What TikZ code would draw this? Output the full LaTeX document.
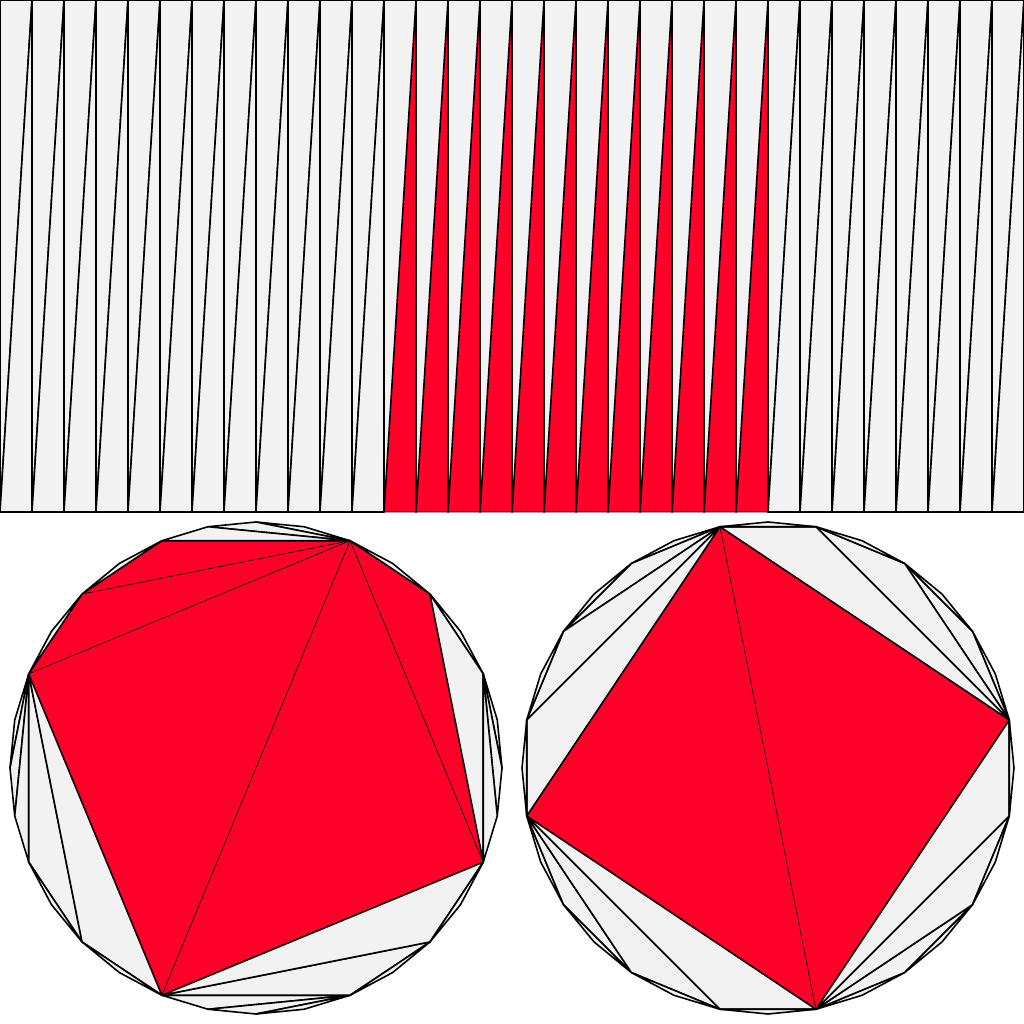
\documentclass[tikz,border=0pt]{standalone}
\definecolor{triGrey}{RGB}{242,242,242}
\definecolor{triRed}{RGB}{255,0,41}
\tikzset{
  gtri/.style={fill=triGrey, draw=black, line width=0.45pt, line join=round},
  rtri/.style={fill=triRed, draw=black, line width=0.15pt, line join=round}
}
\newcommand{\mytriG}[3]{\draw[gtri] (#1)--(#2)--(#3)--cycle;}
\newcommand{\mytriR}[3]{\draw[rtri] (#1)--(#2)--(#3)--cycle;}
\begin{document}
\begin{tikzpicture}[x=0.01cm,y=0.01cm]
\useasboundingbox (0,0) rectangle (1024,1024);
% coordinates of the strip
\foreach \k in {0,...,32}{
  \coordinate (T\k) at ({32*\k},1024);
  \coordinate (B\k) at ({32*\k},512);
}
% coordinates of the two 32-gons
\foreach \i in {0,...,31}{
  \coordinate (L\i) at ({256+246*cos(\i*11.25)},{256+246*sin(\i*11.25)});
  \coordinate (R\i) at ({768+246*cos(\i*11.25)},{256+246*sin(\i*11.25)});
}
% ---------- top strip ----------
\foreach \k [evaluate=\k as \n using int(\k+1)] in {12,...,23}{
  \draw[rtri] (B\k)--(B\n)--(T\n)--cycle;
}
\foreach \k [evaluate=\k as \n using int(\k+1)] in {0,...,31}{
  \draw[gtri] (B\k)--(T\k)--(T\n)--cycle;
}
\foreach \k [evaluate=\k as \n using int(\k+1)] in {0,...,11,24,25,...,31}{
  \draw[gtri] (B\k)--(B\n)--(T\n)--cycle;
}
% ---------- left polygon ----------
\mytriR{L6}{L10}{L12}
\mytriR{L6}{L12}{L14}
\mytriR{L6}{L14}{L22}
\mytriR{L6}{L22}{L30}
\mytriR{L6}{L30}{L4}
\mytriG{L6}{L7}{L8}
\mytriG{L6}{L8}{L9}
\mytriG{L6}{L9}{L10}
\mytriG{L10}{L11}{L12}
\mytriG{L12}{L13}{L14}
\mytriG{L4}{L5}{L6}
\mytriG{L4}{L3}{L2}
\mytriG{L4}{L2}{L30}
\mytriG{L2}{L1}{L0}
\mytriG{L2}{L0}{L31}
\mytriG{L2}{L31}{L30}
\mytriG{L14}{L15}{L16}
\mytriG{L14}{L16}{L17}
\mytriG{L14}{L17}{L18}
\mytriG{L14}{L18}{L20}
\mytriG{L18}{L19}{L20}
\mytriG{L14}{L20}{L22}
\mytriG{L20}{L21}{L22}
\mytriG{L22}{L23}{L26}
\mytriG{L23}{L24}{L26}
\mytriG{L24}{L25}{L26}
\mytriG{L22}{L26}{L28}
\mytriG{L26}{L27}{L28}
\mytriG{L22}{L28}{L30}
\mytriG{L28}{L29}{L30}
% ---------- right polygon ----------
\mytriR{R9}{R17}{R25}
\mytriR{R9}{R25}{R1}
\mytriG{R9}{R10}{R11}
\mytriG{R9}{R11}{R13}
\mytriG{R11}{R12}{R13}
\mytriG{R9}{R13}{R15}
\mytriG{R13}{R14}{R15}
\mytriG{R9}{R15}{R17}
\mytriG{R15}{R16}{R17}
\mytriG{R1}{R2}{R3}
\mytriG{R1}{R3}{R5}
\mytriG{R3}{R4}{R5}
\mytriG{R1}{R5}{R7}
\mytriG{R5}{R6}{R7}
\mytriG{R1}{R7}{R9}
\mytriG{R7}{R8}{R9}
\mytriG{R25}{R26}{R27}
\mytriG{R25}{R27}{R29}
\mytriG{R27}{R28}{R29}
\mytriG{R25}{R29}{R31}
\mytriG{R29}{R30}{R31}
\mytriG{R25}{R31}{R1}
\mytriG{R31}{R0}{R1}
\mytriG{R17}{R18}{R19}
\mytriG{R17}{R19}{R21}
\mytriG{R19}{R20}{R21}
\mytriG{R17}{R21}{R23}
\mytriG{R21}{R22}{R23}
\mytriG{R17}{R23}{R25}
\mytriG{R23}{R24}{R25}
\end{tikzpicture}
\end{document}
